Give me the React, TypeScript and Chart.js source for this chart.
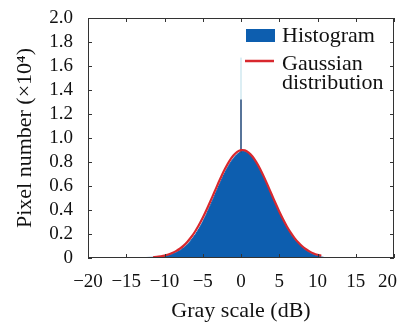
import React, { useEffect, useRef } from "react";
import { Chart, registerables } from "chart.js";

Chart.register(...registerables);

// Histogram (bin centres, dB) and pixel counts (x10^4)
const histX = [-14, -13.5, -13, -12.5, -12, -11.5, -11, -10.5, -10, -9.5, -9, -8.5, -8, -7.5, -7, -6.5, -6, -5.5, -5, -4.5, -4, -3.5, -3, -2.5, -2, -1.5, -1, -0.5, 0, 0.5, 1, 1.5, 2, 2.5, 3, 3.5, 4, 4.5, 5, 5.5, 6, 6.5, 7, 7.5, 8, 8.5, 9, 9.5, 10, 10.5, 11, 11.5];
const histY = [0, 0.002, 0.003, 0.004, 0.005, 0.006, 0.008, 0.011, 0.015, 0.022, 0.031, 0.045, 0.062, 0.085, 0.114, 0.15, 0.193, 0.244, 0.302, 0.368, 0.44, 0.513, 0.587, 0.659, 0.725, 0.783, 0.83, 0.865, 0.885, 0.888, 0.873, 0.842, 0.796, 0.738, 0.671, 0.599, 0.524, 0.45, 0.38, 0.315, 0.256, 0.204, 0.159, 0.121, 0.09, 0.064, 0.044, 0.029, 0.018, 0.009, 0.003, 0];

// Spike at 0 dB
const spikeX = [0, 0];
const spikeDarkY = [0.88, 1.32];
const spikeLightY = [1.32, 1.67];

// Gaussian fit
const gaussX = [-11.5, -11, -10.5, -10, -9.5, -9, -8.5, -8, -7.5, -7, -6.5, -6, -5.5, -5, -4.5, -4, -3.5, -3, -2.5, -2, -1.5, -1, -0.5, 0, 0.5, 1, 1.5, 2, 2.5, 3, 3.5, 4, 4.5, 5, 5.5, 6, 6.5, 7, 7.5, 8, 8.5, 9, 9.5, 10, 10.5];
const gaussY = [0.006, 0.009, 0.014, 0.02, 0.029, 0.041, 0.057, 0.077, 0.103, 0.136, 0.175, 0.221, 0.275, 0.335, 0.402, 0.473, 0.546, 0.619, 0.69, 0.754, 0.81, 0.854, 0.884, 0.899, 0.897, 0.879, 0.846, 0.799, 0.742, 0.676, 0.605, 0.531, 0.458, 0.388, 0.323, 0.263, 0.211, 0.166, 0.129, 0.098, 0.073, 0.053, 0.038, 0.027, 0.019];

const xTicks = [-20, -15, -10, -5, 0, 5, 10, 15, 20];
const yTicks = [0, 0.2, 0.4, 0.6, 0.8, 1.0, 1.2, 1.4, 1.6, 1.8, 2.0];

const legendLabels = ["Histogram", "Gaussian", "distribution"];
const xTitle = "Gray scale (dB)";
const yTitle = "Pixel number (\u00d710\u2074)";

const BLUE = "#0d5eaf";
const RED = "#d8282e";
const FRAME = "#333333";
const SERIF = "'Liberation Serif', 'Times New Roman', serif";

const zip = (xs: number[], ys: number[]) => xs.map((x, i) => ({ x, y: ys[i] }));
const fmtX = (v: number) => (v < 0 ? "\u2212" + Math.abs(v) : String(v));

const framePlugin = {
  id: "frameAndLegend",
  afterDraw(chart: any) {
    const { ctx, chartArea: a, scales, width } = chart;
    const xs = scales.x;
    const ys = scales.y;
    ctx.save();
    ctx.strokeStyle = FRAME;
    ctx.lineWidth = 1;
    ctx.strokeRect(a.left + 0.5, a.top + 0.5, a.right - a.left - 1, a.bottom - a.top - 1);
    const tl = 4;
    ctx.beginPath();
    xTicks.forEach((v) => {
      const px = Math.round(xs.getPixelForValue(v)) + 0.5;
      ctx.moveTo(px, a.bottom);
      ctx.lineTo(px, a.bottom - tl);
      ctx.moveTo(px, a.top);
      ctx.lineTo(px, a.top + tl);
    });
    yTicks.forEach((v) => {
      const py = Math.round(ys.getPixelForValue(v)) + 0.5;
      ctx.moveTo(a.left, py);
      ctx.lineTo(a.left + tl, py);
      ctx.moveTo(a.right, py);
      ctx.lineTo(a.right - tl, py);
    });
    ctx.stroke();

    // x tick labels
    ctx.fillStyle = "#111";
    ctx.font = "19px " + SERIF;
    ctx.textBaseline = "alphabetic";
    ctx.textAlign = "left";
    xTicks.forEach((v) => {
      const t = fmtX(v);
      const w = ctx.measureText(t).width;
      let x0 = xs.getPixelForValue(v) - w / 2;
      if (x0 + w > width - 1) x0 = width - 1 - w;
      ctx.fillText(t, x0, a.bottom + 29);
    });

    // legend
    const lx = a.right - 148;
    ctx.fillStyle = BLUE;
    ctx.fillRect(lx, a.top + 11, 29, 13);
    ctx.strokeStyle = RED;
    ctx.lineWidth = 2.5;
    ctx.beginPath();
    ctx.moveTo(lx - 1, a.top + 43);
    ctx.lineTo(lx + 28, a.top + 43);
    ctx.stroke();
    ctx.fillStyle = "#111";
    ctx.font = "22px " + SERIF;
    ctx.textBaseline = "middle";
    ctx.textAlign = "left";
    ctx.fillText(legendLabels[0], lx + 36, a.top + 18);
    ctx.fillText(legendLabels[1], lx + 36, a.top + 46);
    ctx.fillText(legendLabels[2], lx + 36, a.top + 65);
    ctx.restore();
  },
};

export default function App() {
  const ref = useRef<HTMLCanvasElement | null>(null);
  useEffect(() => {
    if (!ref.current) return;
    const chart = new Chart(ref.current, {
      type: "line",
      data: {
        datasets: [
          {
            label: "Gaussian distribution",
            data: zip(gaussX, gaussY),
            borderColor: RED,
            borderWidth: 2.2,
            pointRadius: 0,
            fill: false,
            tension: 0.3,
          },
          {
            label: "spike",
            data: zip(spikeX, spikeDarkY),
            borderColor: "#1f4677",
            borderWidth: 1.5,
            pointRadius: 0,
            fill: false,
          },
          {
            label: "spike2",
            data: zip(spikeX, spikeLightY),
            borderColor: "#b9dde8",
            borderWidth: 1,
            pointRadius: 0,
            fill: false,
          },
          {
            label: "Histogram",
            data: zip(histX, histY),
            borderColor: BLUE,
            backgroundColor: BLUE,
            borderWidth: 1,
            pointRadius: 0,
            fill: "origin",
            tension: 0.2,
          },
        ],
      },
      options: {
        animation: false,
        responsive: true,
        maintainAspectRatio: false,
        layout: { padding: { top: 10, right: 4, left: 0, bottom: 0 } },
        plugins: { legend: { display: false }, tooltip: { enabled: false } },
        scales: {
          x: {
            type: "linear",
            min: -20,
            max: 20,
            afterBuildTicks: (s: any) => {
              s.ticks = xTicks.map((v) => ({ value: v }));
            },
            afterFit: (s: any) => {
              s.height = 65;
              s.paddingLeft = 0;
              s.paddingRight = 0;
            },
            grid: { display: false, drawTicks: false, tickLength: 0 },
            border: { display: false },
            ticks: { display: false },
            title: {
              display: true,
              text: xTitle,
              color: "#111",
              font: { family: SERIF, size: 22, lineHeight: 1 },
              padding: { top: 0, bottom: 1 },
            },
          },
          y: {
            type: "linear",
            min: 0,
            max: 2,
            afterBuildTicks: (s: any) => {
              s.ticks = yTicks.map((v) => ({ value: v }));
            },
            afterFit: (s: any) => {
              s.width = 80;
              s.paddingTop = 0;
              s.paddingBottom = 0;
            },
            grid: { display: false, drawTicks: false, tickLength: 0 },
            border: { display: false },
            ticks: {
              padding: 15,
              color: "#111",
              font: { family: SERIF, size: 19, lineHeight: 1 },
              autoSkip: false,
              callback: (v: any) => (v === 0 ? "0" : Number(v).toFixed(1)),
            },
            title: {
              display: true,
              text: yTitle,
              color: "#111",
              font: { family: SERIF, size: 22, lineHeight: 1 },
              padding: { top: 6, bottom: 0 },
            },
          },
        },
      },
      plugins: [framePlugin],
    });
    return () => chart.destroy();
  }, []);
  return (
    <div style={{ height: 315, position: "relative" }}>
      <canvas ref={ref} />
    </div>
  );
}
